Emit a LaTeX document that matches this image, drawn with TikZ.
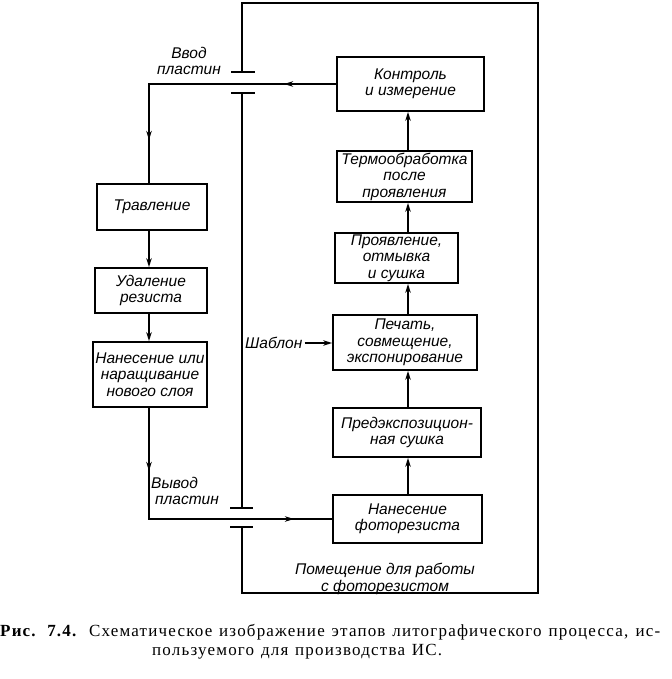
\documentclass[tikz,border=0pt]{standalone}
\usepackage{fontspec}
\setmainfont{Liberation Serif}
\newfontfamily\diagfam{Liberation Sans}
\newfontfamily\captfam{Liberation Serif}[LetterSpace=7]
\usetikzlibrary{arrows.meta,decorations.markings}
\begin{document}
\begin{tikzpicture}[x=1pt,y=-1pt,
  >={Stealth[length=9pt,width=5.5pt]},
  lbl/.style={font=\diagfam\itshape\fontsize{15.5}{16.5}\selectfont, align=center, inner sep=0pt},
  box/.style={lbl, draw, line width=1.8pt, inner sep=1pt},
  conn/.style={line width=1.4pt},
  arr/.style={conn, ->},
  wall/.style={line width=1.8pt},
  walltick/.style={line width=2.6pt},
  capt/.style={anchor=west, inner sep=0pt, font=\captfam\fontsize{17}{20}\selectfont}]
\useasboundingbox (0,0) rectangle (671,679);

% room walls
\draw[wall] (242,72) -- (242,3) -- (538,3) -- (538,593) -- (242,593) -- (242,527);
\draw[wall] (242,93) -- (242,508);
\draw[walltick] (231,72) -- (255,72);
\draw[walltick] (231,93) -- (255,93);
\draw[walltick] (230,508) -- (253,508);
\draw[walltick] (230,527) -- (253,527);

% column guides
\coordinate (cx) at (408,0);
\coordinate (lx) at (149,0);

% right column boxes
\node[box, minimum width=147pt, minimum height=54pt] (kontrol) at (410.5,84) {Контроль\\и измерение};
\node[box, minimum width=135pt, minimum height=51pt] (termo) at (404.5,176.5) {Термообработка\\после\\проявления};
\node[box, minimum width=123pt, minimum height=50pt] (projav) at (396.5,258) {Проявление,\\отмывка\\и сушка};
\node[box, minimum width=144pt, minimum height=55pt] (pechat) at (405,342.5) {Печать,\\совмещение,\\экспонирование};
\node[box, minimum width=148pt, minimum height=49pt] (predexp) at (407,432.5) {Предэкспозицион-\\ная сушка};
\node[box, minimum width=149pt, minimum height=48pt] (nanfr) at (407.5,519) {Нанесение\\фоторезиста};

% left column boxes
\node[box, minimum width=110pt, minimum height=46pt] (trav) at (152,207) {Травление};
\node[box, minimum width=112pt, minimum height=45pt] (udal) at (151,290.5) {Удаление\\резиста};
\node[box, minimum width=114pt, minimum height=65pt] (nanes) at (150,374.5) {Нанесение или\\наращивание\\нового слоя};

% labels
\node[lbl] (vvod) at (189,61) {Ввод\\пластин};
\node[lbl, align=left, anchor=north west] (vyvod) at (151,477) {Вывод\\\hspace*{4pt}пластин};
\node[lbl, anchor=west] (shablon) at (245,343) {Шаблон};
\node[lbl] (room) at (385,579) {Помещение для работы\\с фоторезистом};

% right column arrows (upwards)
\draw[arr] (nanfr.north -| cx) -- (predexp.south -| cx);
\draw[arr] (predexp.north -| cx) -- (pechat.south -| cx);
\draw[arr] (pechat.north -| cx) -- (projav.south -| cx);
\draw[arr] (projav.north -| cx) -- (termo.south -| cx);
\draw[arr] (termo.north -| cx) -- (kontrol.south -| cx);

% left column arrows (downwards)
\draw[arr] (trav.south -| lx) -- (udal.north -| lx);
\draw[arr] (udal.south -| lx) -- (nanes.north -| lx);

% template arrow
\draw[arr, shorten <=2pt] (shablon.east) -- (pechat.west |- shablon.east);

% wafer input path
\draw[conn, postaction={decorate}, decoration={markings,
   mark=at position 52pt with {\arrow{>}},
   mark=at position 243pt with {\arrow{>}}}]
  (kontrol.west) -- (lx |- kontrol.west) -- (trav.north -| lx);

% wafer output path
\draw[conn, postaction={decorate}, decoration={markings,
   mark=at position 63pt with {\arrow{>}},
   mark=at position 256pt with {\arrow{>}}}]
  (nanes.south -| lx) -- (lx |- nanfr.west) -- (nanfr.west);

% caption
\node[capt] (cap1) at (0,632) {\makebox[660pt][s]{\textbf{Рис. 7.4.} Схематическое изображение этапов литографического процесса, ис-}};
\node[capt] (cap2) at (152,652) {\makebox[290pt][s]{пользуемого для производства ИС.}};
\end{tikzpicture}
\end{document}
